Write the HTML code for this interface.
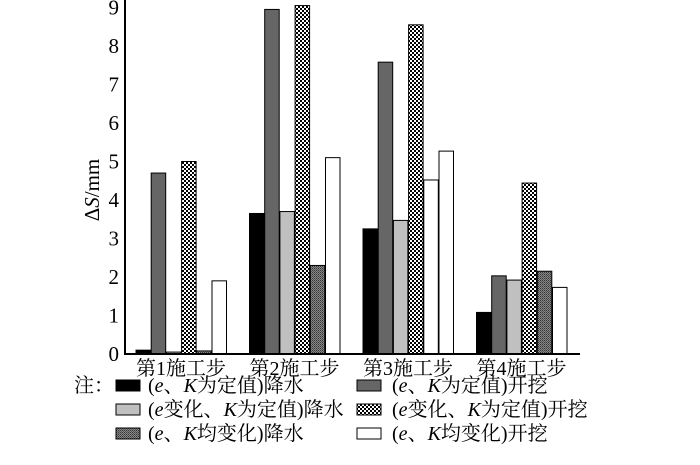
<!DOCTYPE html>
<html><head><meta charset="utf-8"><style>
html,body{margin:0;padding:0;background:#fff;}
svg text{font-family:"Liberation Serif","Noto Serif CJK SC",serif;fill:#000;}
</style></head><body>
<svg id="chart" width="700" height="460" viewBox="0 0 700 460" xmlns="http://www.w3.org/2000/svg">
<defs>
<pattern id="checker" width="4" height="4" patternUnits="userSpaceOnUse"><rect width="4" height="4" fill="#fff"/><rect width="2" height="2" fill="#000"/><rect x="2" y="2" width="2" height="2" fill="#000"/></pattern>
<pattern id="dense" width="2" height="2" patternUnits="userSpaceOnUse"><rect width="2" height="2" fill="#888"/><rect width="1" height="1" fill="#333"/><rect x="1" y="1" width="1" height="1" fill="#555"/></pattern>
</defs>
<g id="bars"></g>
<line x1="125" y1="0" x2="125" y2="355" stroke="#000" stroke-width="2"/>
<line x1="124" y1="354" x2="580" y2="354" stroke="#000" stroke-width="2"/>
<g id="yticks"></g>
<g id="xlabels"></g>
<text transform="translate(99,190) rotate(-90)" text-anchor="middle" font-size="21">Δ<tspan font-style="italic">S</tspan>/mm</text>
<g font-size="20">
<text x="74" y="392">注：</text>
<g><rect x="116" y="380" width="24" height="11" fill="#000" stroke="#000"/><text x="148" y="392">(<tspan font-style="italic">e</tspan>、<tspan font-style="italic">K</tspan>为定值)降水</text></g>
<g><rect x="357" y="380" width="24" height="11" fill="#666" stroke="#000"/><text x="392" y="392">(<tspan font-style="italic">e</tspan>、<tspan font-style="italic">K</tspan>为定值)开挖</text></g>
<g><rect x="116" y="404" width="24" height="11" fill="#c0c0c0" stroke="#000"/><text x="148" y="416">(<tspan font-style="italic">e</tspan>变化、<tspan font-style="italic">K</tspan>为定值)降水</text></g>
<g><rect x="357" y="404" width="24" height="11" fill="url(#checker)" stroke="#000"/><text x="392" y="416">(<tspan font-style="italic">e</tspan>变化、<tspan font-style="italic">K</tspan>为定值)开挖</text></g>
<g><rect x="116" y="428" width="24" height="11" fill="url(#dense)" stroke="#000"/><text x="148" y="440">(<tspan font-style="italic">e</tspan>、<tspan font-style="italic">K</tspan>均变化)降水</text></g>
<g><rect x="357" y="428" width="24" height="11" fill="#fff" stroke="#000"/><text x="392" y="440">(<tspan font-style="italic">e</tspan>、<tspan font-style="italic">K</tspan>均变化)开挖</text></g>
</g>
</svg>
<script>
const categories = ["第1施工步","第2施工步","第3施工步","第4施工步"];
const s1 = [0.1, 3.65, 3.25, 1.08];
const s2 = [4.7, 8.95, 7.58, 2.03];
const s3 = [0.05, 3.7, 3.47, 1.92];
const s4 = [5.0, 9.05, 8.55, 4.44];
const s5 = [0.08, 2.3, 4.52, 2.15];
const s6 = [1.9, 5.1, 5.27, 1.73];
const yTicks = [0,1,2,3,4,5,6,7,8,9];
const series = [s1,s2,s3,s4,s5,s6];
const fills = ["#000","#666","#c0c0c0","url(#checker)","url(#dense)","#fff"];
const NS="http://www.w3.org/2000/svg";
function y(v){return 354 - v*38.5;}
function gx(i){return 136 + i*113.5;}
const bars=document.getElementById('bars');
series.forEach((s,si)=>{
  s.forEach((v,ci)=>{
    const r=document.createElementNS(NS,'rect');
    r.setAttribute('x', gx(ci)+si*15.2);
    r.setAttribute('y', y(v));
    r.setAttribute('width', 14.5);
    r.setAttribute('height', 354-y(v));
    let f=fills[si];
    if(si===4 && ci===2) f="#fff";
    r.setAttribute('fill', f);
    r.setAttribute('stroke','#000');
    r.setAttribute('stroke-width','1');
    
    
    bars.appendChild(r);
  });
});
const yt=document.getElementById('yticks');
yTicks.forEach(t=>{
  const e=document.createElementNS(NS,'text');
  e.setAttribute('x',119);e.setAttribute('y',y(t)+7);
  e.setAttribute('text-anchor','end');e.setAttribute('font-size','21');
  e.textContent=t;
  
  
  yt.appendChild(e);
});
const xl=document.getElementById('xlabels');
categories.forEach((c,i)=>{
  const e=document.createElementNS(NS,'text');
  e.setAttribute('x',gx(i)+45);e.setAttribute('y',375);
  e.setAttribute('text-anchor','middle');e.setAttribute('font-size','20');
  e.textContent=c;
  
  
  xl.appendChild(e);
});
</script>
</body></html>
